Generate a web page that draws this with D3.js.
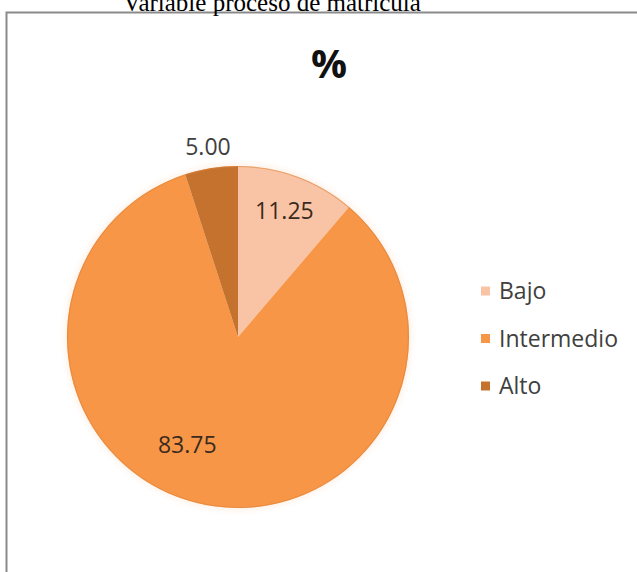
<!DOCTYPE html>
<html>
<head>
<meta charset="utf-8">
<script src="https://cdn.jsdelivr.net/npm/d3@7"></script>
<style>
  html, body { margin: 0; padding: 0; background: #ffffff; }
  svg { display: block; }
</style>
</head>
<body>
<svg id="chart" width="637" height="572"></svg>
<script>
// Share of students per level of the enrolment-process variable (%)
const categories = ["Bajo", "Intermedio", "Alto"];
const values = [11.25, 83.75, 5.00];
const valueLabels = ["11.25", "83.75", "5.00"];

const palette = ["#f9c4a6", "#f79646", "#c6722f"];

const svg = d3.select("#chart");

// chart frame (extends past the right and bottom edges)
svg.append("rect")
  .attr("x", 6.5).attr("y", 12.5)
  .attr("width", 700).attr("height", 700)
  .attr("fill", "#ffffff")
  .attr("stroke", "#8a8a8a")
  .attr("stroke-width", 2);

// document caption above the chart frame
svg.append("text")
  .attr("x", 272)
  .attr("y", 11)
  .attr("text-anchor", "middle")
  .attr("font-family", "'Liberation Serif', 'Times New Roman', serif")
  .attr("font-size", 25)
  .attr("fill", "#000")
  .text("Variable proceso de matrícula");

// chart title
svg.append("text")
  .attr("x", 329)
  .attr("y", 78)
  .attr("text-anchor", "middle")
  .attr("font-family", "'Open Sans', sans-serif")
  .attr("font-weight", "bold")
  .attr("font-size", 40)
  .attr("fill", "#111")
  .text("%");

// pie
const cx = 238, cy = 337, R = 171;
const color = d3.scaleOrdinal().domain(categories).range(palette);

const pie = d3.pie().sort(null).value(d => d.value);
const rows = categories.map((c, i) => ({ name: c, value: values[i], label: valueLabels[i] }));
const arcs = pie(rows);
const arc = d3.arc().innerRadius(0).outerRadius(R);

const g = svg.append("g").attr("transform", `translate(${cx},${cy})`);

// soft halo around the disc
const defs = svg.append("defs");
const f = defs.append("filter").attr("id", "halo")
  .attr("x", "-20%").attr("y", "-20%").attr("width", "140%").attr("height", "140%");
f.append("feGaussianBlur").attr("stdDeviation", 3);

g.append("circle")
  .attr("r", R + 2)
  .attr("fill", "#fde9da")
  .attr("opacity", 0.7)
  .attr("filter", "url(#halo)");

g.selectAll("path.slice")
  .data(arcs)
  .join("path")
  .attr("class", "slice")
  .attr("d", arc)
  .attr("fill", d => color(d.data.name));

g.append("circle")
  .attr("r", R - 0.5)
  .attr("fill", "none")
  .attr("stroke", "#e0843a")
  .attr("stroke-opacity", 0.6)
  .attr("stroke-width", 1.2);

// data-label placement: radius and angular shift from the slice middle
const labelPlace = {
  "Bajo":       { r: 134, shift: 0 },
  "Intermedio": { r: 119, shift: 14 * Math.PI / 180 },
  "Alto":       { r: 192, shift: 0 }
};

g.selectAll("text.val")
  .data(arcs)
  .join("text")
  .attr("class", "val")
  .attr("text-anchor", "middle")
  .attr("font-family", "'Open Sans', sans-serif")
  .attr("font-size", 23)
  .attr("fill", d => d.data.name === "Alto" ? "#404040" : "#3a2a20")
  .attr("x", d => {
    const p = labelPlace[d.data.name];
    const a = (d.startAngle + d.endAngle) / 2 + p.shift;
    return p.r * Math.sin(a);
  })
  .attr("y", d => {
    const p = labelPlace[d.data.name];
    const a = (d.startAngle + d.endAngle) / 2 + p.shift;
    return -p.r * Math.cos(a) + 8;
  })
  .text(d => d.data.label);

// legend
const legendY = d3.scalePoint().domain(categories).range([291, 386]);
const lg = svg.append("g");
const item = lg.selectAll("g").data(categories).join("g")
  .attr("transform", d => `translate(481,${legendY(d)})`);
item.append("rect")
  .attr("x", 0).attr("y", -4.5)
  .attr("width", 9).attr("height", 9)
  .attr("fill", d => color(d));
item.append("text")
  .attr("x", 18)
  .attr("y", 8)
  .attr("font-family", "'Open Sans', sans-serif")
  .attr("font-size", 23)
  .attr("fill", "#404040")
  .text(d => d);
</script>
</body>
</html>
